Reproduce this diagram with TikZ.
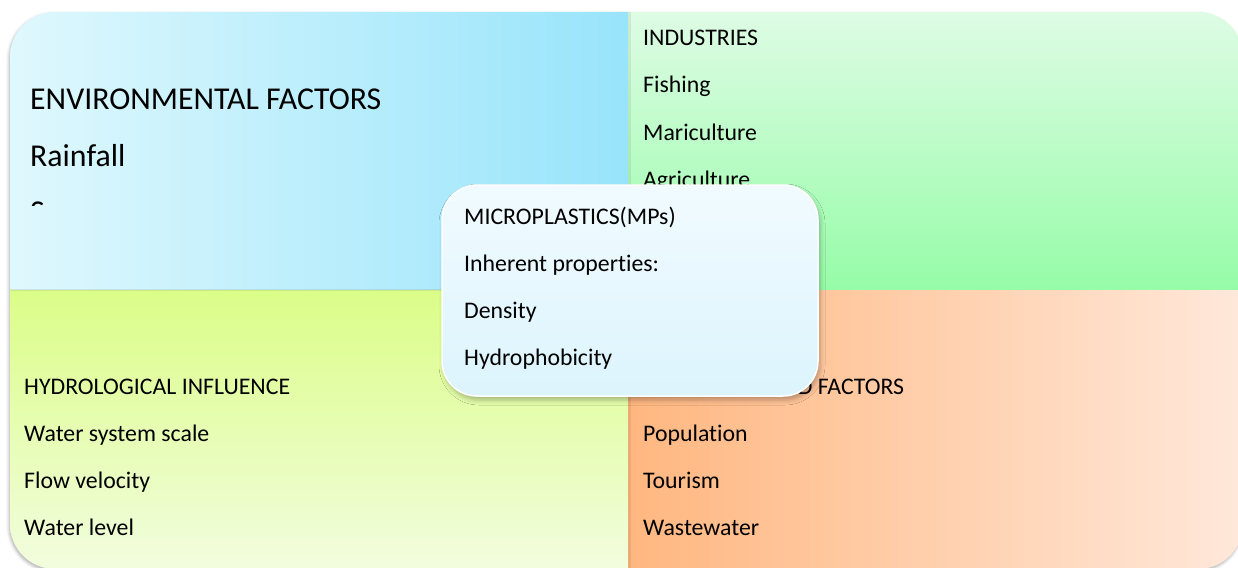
\documentclass[tikz,border=0pt]{standalone}
\usepackage{fontspec}
\setmainfont{Carlito}[Ligatures={NoCommon,NoContextual,NoRare}]
\usetikzlibrary{shadows.blur}

% quadrant and centre colours
\definecolor{envL}{RGB}{223,248,253}
\definecolor{envR}{RGB}{152,228,251}
\definecolor{indT}{RGB}{222,252,228}
\definecolor{indB}{RGB}{150,252,168}
\definecolor{hydT}{RGB}{219,253,136}
\definecolor{hydB}{RGB}{242,253,222}
\definecolor{humL}{RGB}{255,183,128}
\definecolor{humR}{RGB}{255,232,218}
\definecolor{mpsT}{RGB}{241,251,255}
\definecolor{mpsB}{RGB}{220,244,253}

\tikzset{
  itemtext/.style={anchor=base west, inner sep=0pt, text=black,
                   font=\fontsize{23.8}{28}\selectfont},
  bigtext/.style={anchor=base west, inner sep=0pt, text=black,
                  font=\fontsize{31.8}{38}\selectfont},
  centerbox/.style={draw=white, line width=1.5pt, rounded corners=35pt,
                    top color=mpsT, bottom color=mpsB,
                    minimum width=376pt, minimum height=211pt, inner sep=0pt,
                    blur shadow={shadow xshift=2pt, shadow yshift=-4pt,
                                 shadow blur radius=5pt, shadow opacity=28}},
  seam/.style={black, opacity=0.07}
}

\begin{document}
\begin{tikzpicture}[x=1pt,y=-1pt]
\useasboundingbox (0,0) rectangle (1238,567);

% soft shadow around the four-panel block
\path[rounded corners=45pt,
      blur shadow={shadow xshift=-1pt, shadow yshift=-2pt,
                   shadow blur radius=3pt, shadow opacity=30}]
  (10,12) rectangle (1243,569);

% the four panels, clipped to one rounded block
\begin{scope}
  \clip[rounded corners=45pt] (10,12) rectangle (1243,569);
  \shade[left color=envL, right color=envR] (10,12) rectangle (628,290);
  \shade[top color=indT, bottom color=indB] (628,12) rectangle (1243,290);
  \shade[top color=hydT, bottom color=hydB] (10,290) rectangle (628,569);
  \shade[left color=humL, right color=humR] (628,290) rectangle (1243,569);
  % faint seams between panels
  \fill[seam] (628,12) rectangle (630.5,569);
  \fill[seam] (10,289) rectangle (628,291);
\end{scope}

% environmental factors (text box cut off below)
\begin{scope}
  \clip (10,12) rectangle (628,205);
  \node[bigtext] (env) at (30,110) {ENVIRONMENTAL FACTORS};
  \node[bigtext] (rain) at (30,166) {Rainfall};
  \node[bigtext] (season) at (30,222) {Season};
\end{scope}

% industries
\node[itemtext] (ind)  at (643,46)  {INDUSTRIES};
\node[itemtext] (fish) at (643,93)  {Fishing};
\node[itemtext] (mari) at (643,140) {Mariculture};
\node[itemtext] (agri) at (643,187) {Agriculture};

% hydrological influence
\node[itemtext] (hyd)   at (24,394) {HYDROLOGICAL INFLUENCE};
\node[itemtext] (scale) at (24,441) {Water system scale};
\node[itemtext] (flow)  at (24,488) {Flow velocity};
\node[itemtext] (level) at (24,535) {Water level};

% human-related factors
\node[itemtext] (hum)   at (643,394) {HUMAN RELATED FACTORS};
\node[itemtext] (pop)   at (643,441) {Population};
\node[itemtext] (tour)  at (643,488) {Tourism};
\node[itemtext] (waste) at (643,535) {Wastewater};

% central microplastics box
\node[centerbox] (mps) at (630,290.5) {};
\node[itemtext] (mpsT)  at (464,224) {MICROPLASTICS(MPs)};
\node[itemtext] (prop)  at (464,271) {Inherent proper\kern0pt ties:};
\node[itemtext] (dens)  at (464,318) {Density};
\node[itemtext] (hydro) at (464,365) {Hydrophobicity};
\end{tikzpicture}
\end{document}
